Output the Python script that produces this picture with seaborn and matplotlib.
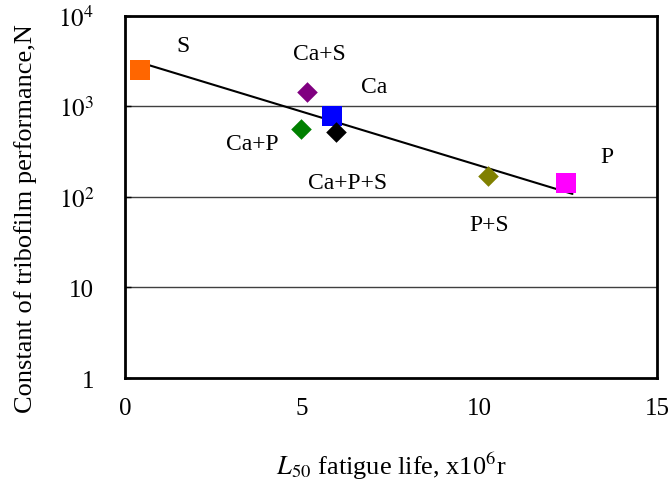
import matplotlib
matplotlib.use("Agg")
import matplotlib.pyplot as plt
import seaborn as sns
import pandas as pd
import numpy as np

# ---- data ----
labels = ["S", "Ca+S", "Ca", "Ca+P", "Ca+P+S", "P+S", "P"]
life = [0.42, 5.13, 5.83, 4.96, 5.94, 10.23, 12.45]
constant = [2530, 1445, 785, 564, 523, 171, 143]
shapes = ["s", "D", "s", "D", "D", "D", "s"]
colors = ["#FF6600", "#800080", "#0000FF", "#008000", "#000000", "#808000", "#FF00FF"]

label_x = [1.63, 5.49, 7.04, 3.6, 6.28, 10.28, 13.6]
label_y = [4660, 3800, 1640, 385, 146, 50, 277]

trend_x = [0.37, 12.62]
trend_y = [3105, 108]

xticks = [0, 5, 10, 15]
yticks = [1, 10, 100, 1000, 10000]
ytick_labels = ["1", "10", r"$10^{2}$", r"$10^{3}$", r"$10^{4}$"]

sns.set_theme(style="white")
plt.rcParams["font.family"] = ["Liberation Serif", "DejaVu Serif"]
plt.rcParams["mathtext.fontset"] = "stix"
plt.rcParams["text.color"] = "black"
plt.rcParams["axes.labelcolor"] = "black"
plt.rcParams["xtick.color"] = "black"
plt.rcParams["ytick.color"] = "black"

fig = plt.figure(figsize=(6.71, 4.81), dpi=100)
ax = fig.add_axes([0.186, 0.212, 0.793, 0.753])

df = pd.DataFrame({"label": labels, "life": life, "constant": constant})
marker_map = dict(zip(labels, shapes))
palette = dict(zip(labels, colors))
size_map = {l: (210 if m == "s" else 110) for l, m in zip(labels, shapes)}

ax.set_yscale("log")
for g in [10, 100, 1000]:
    ax.axhline(g, color="#404040", lw=1.0, zorder=0)

sns.lineplot(x=trend_x, y=trend_y, ax=ax, color="black", lw=1.5, zorder=2)
for lab in labels:
    sub = df[df.label == lab]
    sns.scatterplot(data=sub, x="life", y="constant", ax=ax, marker=marker_map[lab],
                    color=palette[lab], s=size_map[lab], linewidth=0, zorder=3, legend=False)

for lab, lx, ly in zip(labels, label_x, label_y):
    ax.text(lx, ly, lab, fontsize=17, ha="center", va="center", color="black")

ax.set_xlim(0, 15)
ax.set_ylim(1, 10000)
ax.set_xticks(xticks)
ax.set_xticklabels([str(t) for t in xticks], fontsize=18)
ax.set_yticks(yticks)
ax.set_yticklabels(ytick_labels, fontsize=18)
ax.minorticks_off()
ax.tick_params(axis="y", direction="in", length=4, width=1, left=True, pad=22)
ax.tick_params(axis="x", length=0, pad=14)

for sp in ax.spines.values():
    sp.set_color("black")
    sp.set_linewidth(2)

ax.set_ylabel("Constant of tribofilm performance,N", fontsize=19)
ax.yaxis.set_label_coords(-0.165, 0.442)
ax.set_xlabel(r"$\mathit{L}$$_{50}$ fatigue life, x10$^{6}$r", fontsize=19, labelpad=22)

fig.savefig("out.png", dpi=100)
